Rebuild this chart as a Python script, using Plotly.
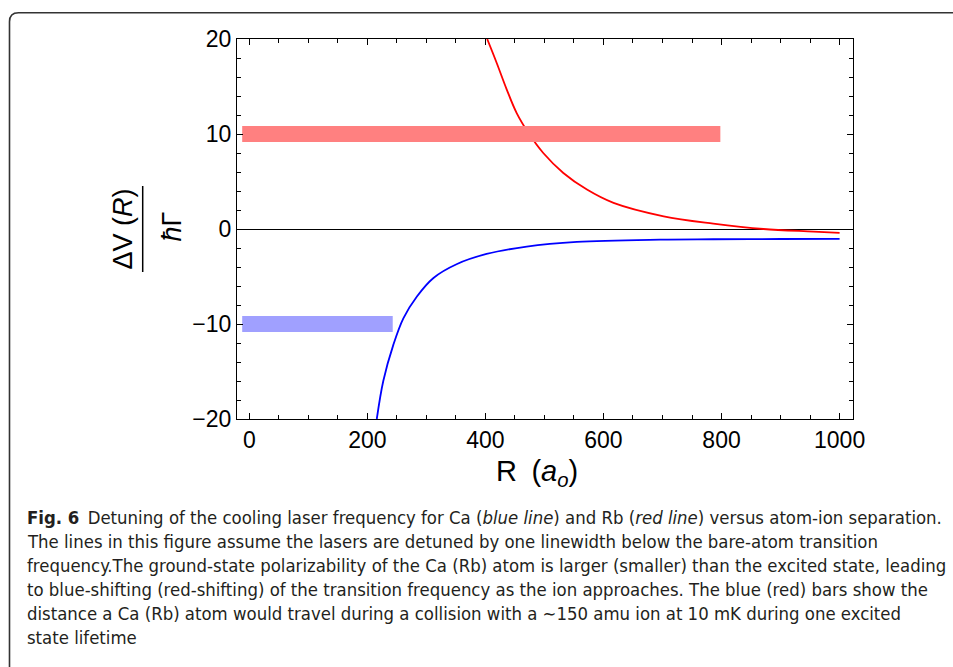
import plotly.graph_objects as go

# ---------------- data ----------------
red_R = [403, 419, 436, 453, 473, 498, 532, 572, 617, 702, 786, 871, 956, 1000]
red_V = [20.0, 17.5, 14.7, 12.2, 10.1, 8.0, 5.9, 4.15, 2.75, 1.34, 0.57, 0.0, -0.27, -0.41]

blue_R = [216, 227, 244, 261, 284, 312, 352, 402, 470, 555, 696, 786, 900, 1000]
blue_V = [-20.0, -16.0, -12.2, -9.4, -7.1, -5.15, -3.68, -2.63, -1.85, -1.36, -1.12, -1.08, -1.05, -1.04]

red_bar_R = [-12, 798]
red_bar_level = 10
blue_bar_R = [-12, 243]
blue_bar_level = -10

x_tickvals = [0, 200, 400, 600, 800, 1000]
y_tickvals = [-20, -10, 0, 10, 20]

caption_lines = [
    "<b>Fig. 6</b>\u2002Detuning of the cooling laser frequency for Ca (<i>blue line</i>) and Rb (<i>red line</i>) versus atom-ion separation.",
    "The lines in this figure assume the lasers are detuned by one linewidth below the bare-atom transition",
    "frequency.The ground-state polarizability of the Ca (Rb) atom is larger (smaller) than the excited state, leading",
    "to blue-shifting (red-shifting) of the transition frequency as the ion approaches. The blue (red) bars show the",
    "distance a Ca (Rb) atom would travel during a collision with a \u223c150 amu ion at 10 mK during one excited",
    "state lifetime",
]

# ---------------- layout geometry ----------------
W, H = 953, 667
PL, PT, PR, PB = 237, 39, 100, 248
PW, PH = W - PL - PR, H - PT - PB


def px_x(px):
    return (px - PL) / PW


def px_y(py):
    return 1 - (py - PT) / PH


TICK_FONT = dict(family="Liberation Sans, Arial, sans-serif", size=23, color="black")
TITLE_FAMILY = "Liberation Sans, Arial, sans-serif"
CAP_FAMILY = "Liberation Sans Narrow, DejaVu Sans Condensed, sans-serif"

fig = go.Figure()

fig.add_trace(go.Scatter(x=red_R, y=red_V, mode="lines", line=dict(color="#ff0000", width=1.8, shape="spline"),
                         showlegend=False, hoverinfo="skip"))
fig.add_trace(go.Scatter(x=blue_R, y=blue_V, mode="lines", line=dict(color="#0000ff", width=1.8, shape="spline"),
                         showlegend=False, hoverinfo="skip"))
# bars
fig.add_trace(go.Scatter(x=red_bar_R, y=[red_bar_level] * 2, mode="lines",
                         line=dict(color="#ff8080", width=16), showlegend=False, hoverinfo="skip"))
fig.add_trace(go.Scatter(x=blue_bar_R, y=[blue_bar_level] * 2, mode="lines",
                         line=dict(color="#a0a0ff", width=16), showlegend=False, hoverinfo="skip"))

axis_common = dict(
    showline=True, linecolor="black", linewidth=1.3, mirror="ticks",
    ticks="inside", ticklen=6, tickwidth=1.1, tickcolor="black",
    showgrid=False, tickfont=TICK_FONT,
)

fig.update_xaxes(range=[-20.8, 1022.7], tickvals=x_tickvals, zeroline=False,
                 minor=dict(dtick=50, tick0=0, ticks="inside", ticklen=3.5, tickwidth=1, tickcolor="black", showgrid=False),
                 **axis_common)
fig.update_yaxes(range=[-20, 20], tickvals=y_tickvals, zeroline=True, zerolinecolor="black", zerolinewidth=1,
                 minor=dict(dtick=2, tick0=0, ticks="inside", ticklen=3.5, tickwidth=1, tickcolor="black", showgrid=False),
                 **axis_common)

annotations = []
# x-axis title
annotations.append(dict(text="R\u2002(<i>a<sub>o</sub></i>)", xref="paper", yref="paper",
                        x=px_x(537), y=px_y(473), xanchor="center", yanchor="middle", showarrow=False,
                        font=dict(family=TITLE_FAMILY, size=29, color="black")))
# y-axis title (fraction)
annotations.append(dict(text="\u0394V (<i>R</i>)", xref="paper", yref="paper",
                        x=px_x(122.5), y=px_y(229), xanchor="center", yanchor="middle", textangle=-90,
                        showarrow=False, font=dict(family=TITLE_FAMILY, size=27, color="black")))
annotations.append(dict(text="<i>\u0127</i>\u0393", xref="paper", yref="paper",
                        x=px_x(171.5), y=px_y(227), xanchor="center", yanchor="middle", textangle=-90,
                        showarrow=False, font=dict(family=TITLE_FAMILY, size=27, color="black")))
# caption
cap_y = [517, 541, 565, 589, 613, 637]
for line, yy in zip(caption_lines, cap_y):
    annotations.append(dict(text=line, xref="paper", yref="paper", x=px_x(25), y=px_y(yy),
                            xanchor="left", yanchor="middle", showarrow=False,
                            font=dict(family=CAP_FAMILY, size=18.4, color="#231f20")))

shapes = []
# fraction bar
shapes.append(dict(type="line", xref="paper", yref="paper", x0=px_x(142.7), x1=px_x(142.7),
                   y0=px_y(186), y1=px_y(272), line=dict(color="black", width=1.5), layer="above"))
# rounded border frame
bx, by, r = 9.5, 12.7, 9
path = (f"M {px_x(bx)},{px_y(H + 20)} L {px_x(bx)},{px_y(by + r)} "
        f"Q {px_x(bx)},{px_y(by)} {px_x(bx + r)},{px_y(by)} L {px_x(W + 20)},{px_y(by)}")
shapes.append(dict(type="path", xref="paper", yref="paper", path=path,
                   line=dict(color="#333333", width=1.6), layer="above"))

fig.update_layout(
    width=W, height=H, autosize=False,
    margin=dict(l=PL, r=PR, t=PT, b=PB, pad=0),
    paper_bgcolor="white", plot_bgcolor="white",
    annotations=annotations, shapes=shapes, showlegend=False,
)

fig.write_html("out.html")
